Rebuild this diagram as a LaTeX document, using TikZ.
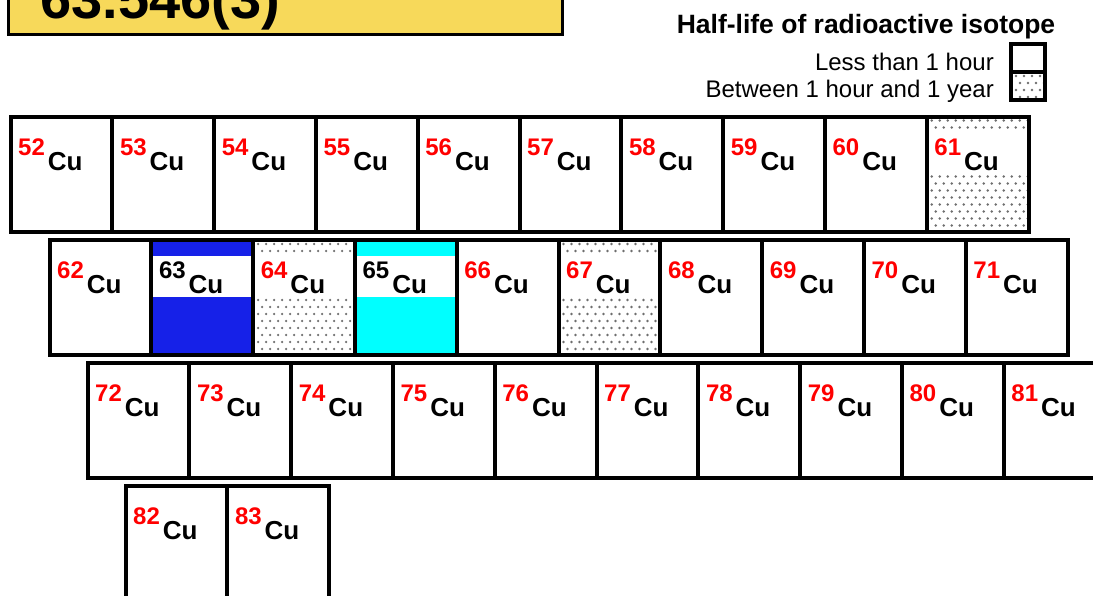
\documentclass[tikz,border=0pt]{standalone}
\usepackage{fontspec}
\setmainfont{Liberation Sans}
\usetikzlibrary{positioning}
\definecolor{CuYellow}{RGB}{247,217,90}
\definecolor{CuBlue}{RGB}{22,33,232}
\definecolor{CuCyan}{RGB}{0,255,255}
\definecolor{CuRed}{RGB}{255,0,0}
\definecolor{DotGray}{RGB}{110,110,110}
\tikzset{
  cell/.style={draw, line width=4pt, fill=white, outer sep=0pt, inner sep=0pt, minimum width=101.8pt, minimum height=115pt, anchor=north west},
  dotfill/.style={path picture={
    \foreach \r in {0,...,16}
      \foreach \k in {0,...,12}
        \fill[DotGray] ([shift={({\k*8+4*mod(\r,2)+5},{\r*7+4})}]path picture bounding box.north west) circle (1.3);
    #1}},
  dotfill/.default={},
  halfcell/.style={cell, dotfill={\fill[white] ([shift={(0,16)}]path picture bounding box.north west) rectangle ([shift={(0,57)}]path picture bounding box.north east);}},
  bluecell/.style={cell, fill=CuBlue, path picture={\fill[white] ([shift={(0,16)}]path picture bounding box.north west) rectangle ([shift={(0,57)}]path picture bounding box.north east);}},
  cyancell/.style={cell, fill=CuCyan, path picture={\fill[white] ([shift={(0,16)}]path picture bounding box.north west) rectangle ([shift={(0,57)}]path picture bounding box.north east);}},
  keybox/.style={draw, line width=3.3pt, fill=white, outer sep=0pt, inner sep=0pt, minimum width=34pt, minimum height=28pt, anchor=north west},
  isolabel/.style={anchor=base west, inner sep=0pt, font=\bfseries\fontsize{26}{26}\selectfont},
  legendtext/.style={anchor=base east, inner sep=0pt, font=\fontsize{24}{24}\selectfont}
}

\begin{document}
\begin{tikzpicture}[x=1pt, y=-1pt]
\useasboundingbox (0,0) rectangle (1093,595);
\clip (0,0) rectangle (1093,595);
% atomic weight box
\node[draw, line width=3pt, fill=CuYellow, outer sep=0pt, minimum width=554pt, minimum height=100pt, anchor=south west] (massbox) at (8.5,34) {};
\node[anchor=base west, inner sep=0pt, font=\bfseries\fontsize{56}{56}\selectfont] (massval) at (40,18) {63.546(3)};
% legend
\node[anchor=base, inner sep=0pt, font=\bfseries\fontsize{26.5}{26.5}\selectfont] (title) at (866,33) {Half-life of radioactive isotope};
\node[keybox] (key1) at (1011,44) {};
\node[keybox, dotfill, below=0pt of key1] (key2) {};
\node[legendtext] (short) at (994,70) {Less than 1 hour};
\node[legendtext] (medium) at (994,97) {Between 1 hour and 1 year};
% row 1
\foreach \m/\kind/\col [count=\i from 0] in {52/cell/CuRed, 53/cell/CuRed, 54/cell/CuRed, 55/cell/CuRed, 56/cell/CuRed, 57/cell/CuRed, 58/cell/CuRed, 59/cell/CuRed, 60/cell/CuRed, 61/halfcell/CuRed}{
  \node[\kind] (c\m) at (10.5+101.8*\i,116.5) {};
  \node[isolabel] (t\m) at ([shift={(7.5,53.5)}]c\m.north west) {\raisebox{15pt}{\fontsize{24}{24}\selectfont\color{\col}\m}\kern3pt Cu};
}
% row 2
\foreach \m/\kind/\col [count=\i from 0] in {62/cell/CuRed, 63/bluecell/black, 64/halfcell/CuRed, 65/cyancell/black, 66/cell/CuRed, 67/halfcell/CuRed, 68/cell/CuRed, 69/cell/CuRed, 70/cell/CuRed, 71/cell/CuRed}{
  \node[\kind] (c\m) at (49.5+101.8*\i,240) {};
  \node[isolabel] (t\m) at ([shift={(7.5,53.5)}]c\m.north west) {\raisebox{15pt}{\fontsize{24}{24}\selectfont\color{\col}\m}\kern3pt Cu};
}
% row 3
\foreach \m [count=\i from 0] in {72,...,81}{
  \node[cell] (c\m) at (87.5+101.8*\i,362.5) {};
  \node[isolabel] (t\m) at ([shift={(7.5,53.5)}]c\m.north west) {\raisebox{15pt}{\fontsize{24}{24}\selectfont\color{CuRed}\m}\kern3pt Cu};
}
% row 4
\foreach \m [count=\i from 0] in {82,83}{
  \node[cell] (c\m) at (125.5+101.8*\i,485.5) {};
  \node[isolabel] (t\m) at ([shift={(7.5,53.5)}]c\m.north west) {\raisebox{15pt}{\fontsize{24}{24}\selectfont\color{CuRed}\m}\kern3pt Cu};
}
\end{tikzpicture}
\end{document}
